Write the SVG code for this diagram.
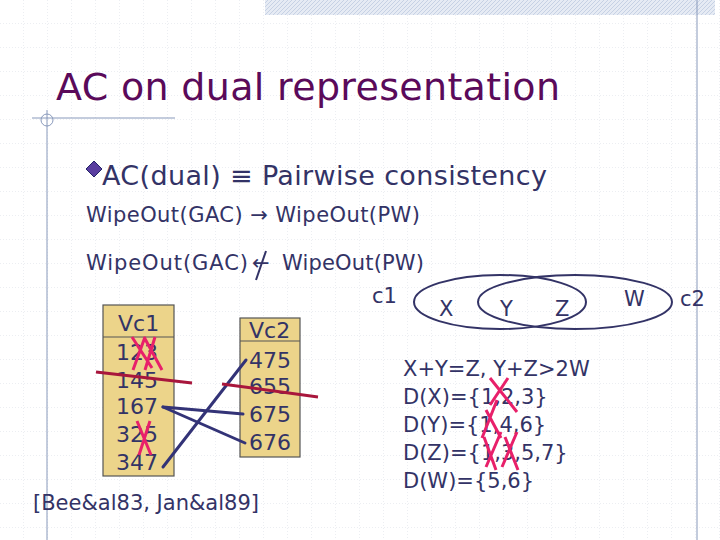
<svg xmlns="http://www.w3.org/2000/svg" width="720" height="540" viewBox="0 0 720 540">
<defs>
<pattern id="grid" width="24" height="24" patternUnits="userSpaceOnUse"><path d="M24 0V24M0 24H24" fill="none" stroke="#d8dce4" stroke-width="1" stroke-dasharray="1 2"/></pattern>
<pattern id="hatch" width="4" height="4" patternUnits="userSpaceOnUse"><rect width="4" height="4" fill="#e6ebf4"/><path d="M0 4L4 0" stroke="#c6d1e4" stroke-width="1"/></pattern>
<style>
text{font-family:"DejaVu Sans",Verdana,sans-serif;fill:#333366}
.t{font-size:21px}.n{font-size:22px}
.box{fill:#ecd48a;stroke:#555555;stroke-width:1.2}
.c{stroke:#333377;stroke-width:3;fill:none;stroke-linecap:round}
.r{stroke:#a8163c;stroke-width:3;fill:none}
.x{stroke:#e8206a;stroke-width:3;fill:none}
.e{fill:none;stroke:#333366;stroke-width:2}
</style>
</defs>
<rect width="720" height="540" fill="#ffffff"/>
<rect width="720" height="540" fill="url(#grid)"/>
<rect x="265" y="0" width="450" height="15" fill="url(#hatch)"/>
<line x1="697" y1="0" x2="697" y2="540" stroke="#8899bb" stroke-width="1"/>
<line x1="32" y1="118" x2="175" y2="118" stroke="#8899bb" stroke-width="1"/>
<line x1="47" y1="110" x2="47" y2="540" stroke="#8899bb" stroke-width="1"/>
<circle cx="47" cy="120" r="6" fill="none" stroke="#8899bb"/>
<text x="56" y="100" style="font-size:38px;fill:#5a0a5a" textLength="504">AC on dual representation</text>
<path d="M86 169l8-8 8 8-8 8z" fill="#5a3ea0" stroke="#222266"/>
<text x="102" y="185" style="font-size:27px" textLength="445">AC(dual) ≡ Pairwise consistency</text>
<text x="86" y="222" class="t" textLength="334">WipeOut(GAC) → WipeOut(PW)</text>
<text x="86" y="270" class="t" textLength="162">WipeOut(GAC)</text>
<text x="252" y="270" class="t">←</text>
<text x="282" y="270" class="t" textLength="142">WipeOut(PW)</text>
<line x1="266" y1="251" x2="256" y2="280" stroke="#333366" stroke-width="2"/>
<g id="vc1">
<rect x="103" y="305" width="71" height="171" class="box"/>
<line x1="103" y1="337" x2="174" y2="337" stroke="#555555"/>
<text x="118" y="331" class="n">Vc1</text>
<text x="116" y="360" class="n">123</text>
<text x="116" y="388" class="n">145</text>
<text x="116" y="414" class="n">167</text>
<text x="116" y="442" class="n">325</text>
<text x="116" y="470" class="n">347</text>
</g>
<g id="vc2">
<rect x="240" y="318" width="60" height="139" class="box"/>
<line x1="240" y1="341" x2="300" y2="341" stroke="#555555"/>
<text x="249" y="338" class="n">Vc2</text>
<text x="249" y="368" class="n">475</text>
<text x="249" y="394" class="n">655</text>
<text x="249" y="422" class="n">675</text>
<text x="249" y="450" class="n">676</text>
</g>
<g id="connectors">
<line x1="163" y1="407" x2="243" y2="414" class="c"/>
<line x1="163" y1="407" x2="245" y2="443" class="c"/>
<line x1="163" y1="467" x2="246" y2="360" class="c"/>
<line x1="96" y1="372" x2="192" y2="383" class="r"/>
<line x1="222" y1="384" x2="318" y2="397" class="r"/>
<path d="M132 337L152 368M145 337L133 370M144 337L162 370M155 337L145 370M137 421L151 455M150 421L139 455" class="x"/>
</g>
<g id="hyper">
<ellipse cx="500" cy="302" rx="86" ry="27" class="e"/>
<ellipse cx="575" cy="302" rx="97" ry="27" class="e"/>
<text x="372" y="303" class="t">c1</text>
<text x="680" y="306" class="t">c2</text>
<text x="439" y="316" class="t">X</text>
<text x="500" y="316" class="t">Y</text>
<text x="555" y="316" class="t">Z</text>
<text x="624" y="306" class="t">W</text>
</g>
<text x="403" y="376" class="t">X+Y=Z, Y+Z&gt;2W</text>
<text x="403" y="404" class="t">D(X)={1,2,3}</text>
<text x="403" y="432" class="t">D(Y)={1,4,6}</text>
<text x="403" y="460" class="t">D(Z)={1,3,5,7}</text>
<text x="403" y="488" class="t">D(W)={5,6}</text>
<path d="M490 378L517 412M508 378L490 405M486 410L501 438M497 400L482 438M484 437L496 470M501 432L486 467M505 437L518 470M517 432L502 467" class="x"/>
<text x="33" y="510" class="t">[Bee&amp;al83, Jan&amp;al89]</text>
</svg>
